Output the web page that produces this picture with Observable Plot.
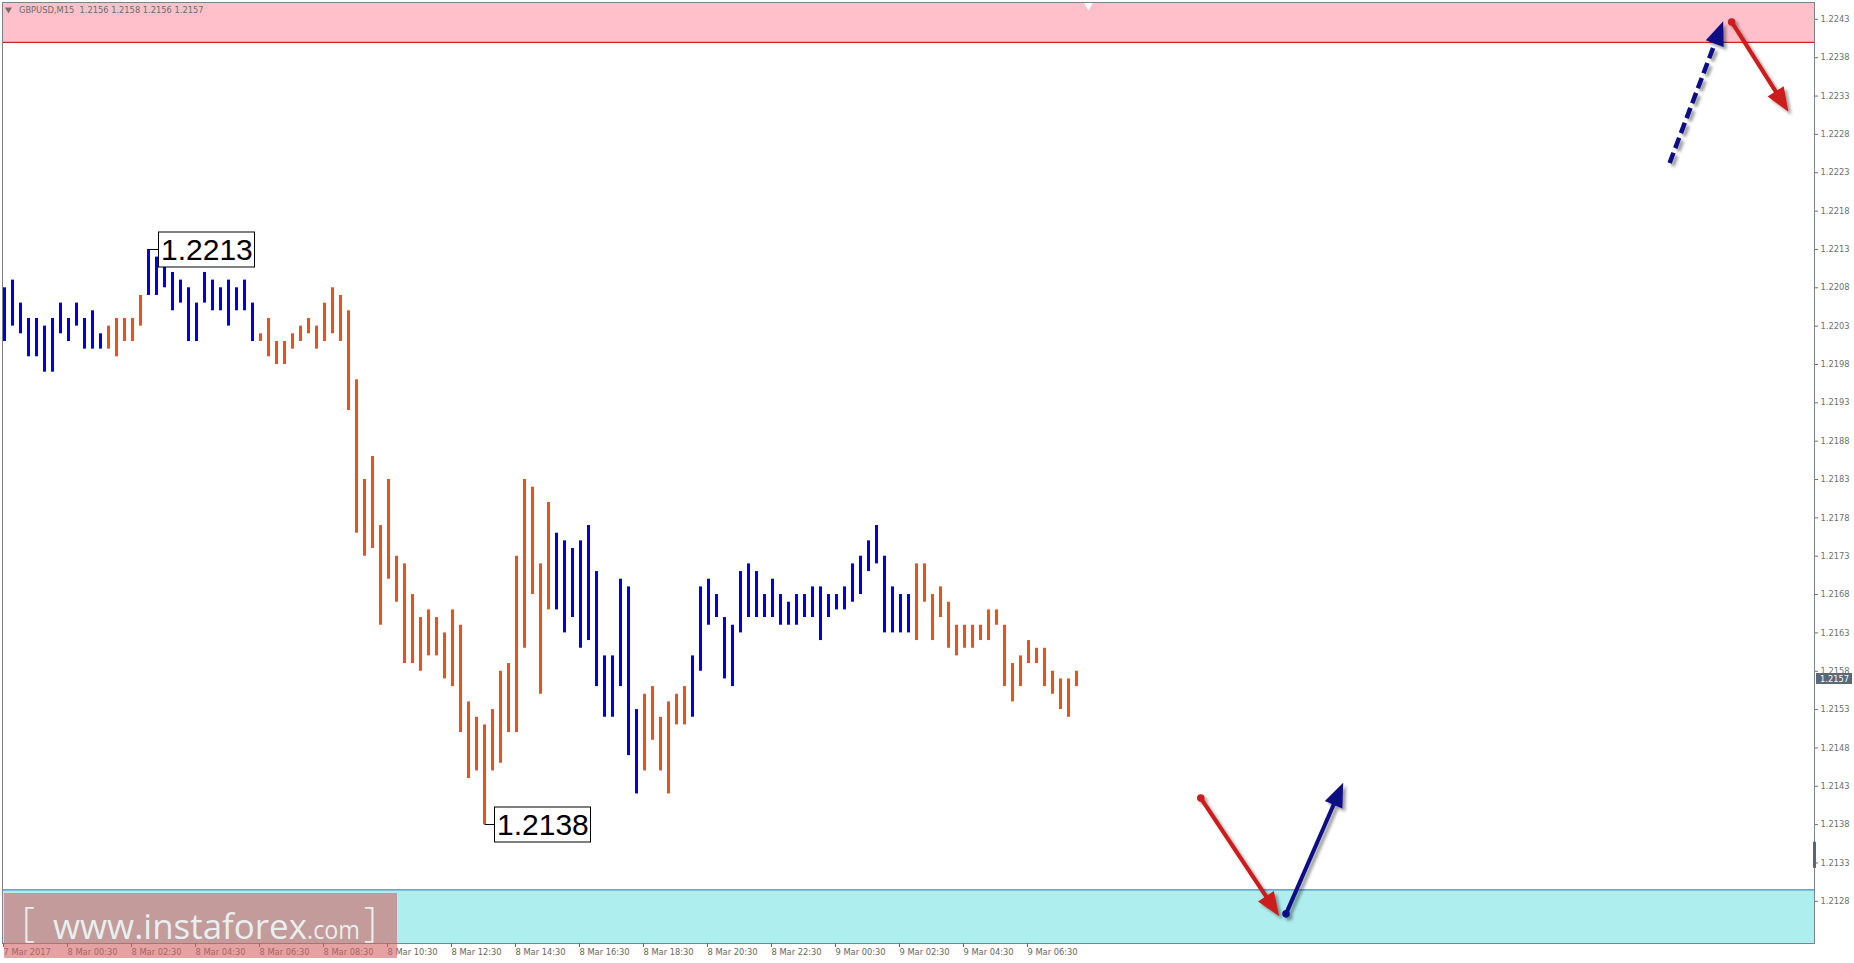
<!DOCTYPE html>
<html>
<head>
<meta charset="utf-8">
<script src="https://cdn.jsdelivr.net/npm/d3@7"></script>
<script src="https://cdn.jsdelivr.net/npm/@observablehq/plot@0.6"></script>
<style>
  html, body { margin: 0; padding: 0; background: #fff; }
  #wrap { position: relative; width: 1854px; height: 963px; overflow: hidden; }
  #wrap svg.wm { position: absolute; left: 0; top: 0; pointer-events: none; }
</style>
</head>
<body>
<div id="wrap"></div>
<script>
// ---------------- data ----------------
const symbolName = "GBPUSD,M15";
const lastOHLC = [1.2156, 1.2158, 1.2156, 1.2157];

// 15-minute bars, index 0 = 7 Mar 2017 22:30
const highs = [
  1.2208,1.2209,1.2206,1.2204,1.2204,1.2203,1.2204,1.2206,1.2204,1.2206,
  1.2204,1.2205,1.2202,1.2203,1.2204,1.2204,1.2204,1.2207,1.2213,1.2212,
  1.2211,1.2210,1.2209,1.2208,1.2206,1.2210,1.2209,1.2208,1.2209,1.2208,
  1.2209,1.2206,1.2202,1.2204,1.2201,1.2201,1.2202,1.2203,1.2204,1.2203,
  1.2206,1.2208,1.2207,1.2205,1.2196,1.2183,1.2186,1.2177,1.2183,1.2173,
  1.2172,1.2168,1.2165,1.2166,1.2165,1.2163,1.2166,1.2164,1.2154,1.2152,
  1.2151,1.2153,1.2158,1.2159,1.2173,1.2183,1.2182,1.2172,1.2180,1.2176,
  1.2175,1.2174,1.2175,1.2177,1.2171,1.2160,1.2160,1.2170,1.2169,1.2153,
  1.2155,1.2156,1.2152,1.2154,1.2155,1.2156,1.2160,1.2169,1.2170,1.2168,
  1.2165,1.2164,1.2171,1.2172,1.2171,1.2168,1.2170,1.2168,1.2167,1.2168,
  1.2168,1.2169,1.2169,1.2168,1.2168,1.2169,1.2172,1.2173,1.2175,1.2177,
  1.2173,1.2169,1.2168,1.2168,1.2172,1.2172,1.2168,1.2169,1.2167,1.2164,
  1.2164,1.2164,1.2164,1.2166,1.2166,1.2164,1.2159,1.2160,1.2162,1.2161,
  1.2161,1.2158,1.2157,1.2157,1.2158
];
const lows = [
  1.2201,1.2203,1.2202,1.2199,1.2199,1.2197,1.2197,1.2202,1.2201,1.2203,
  1.2200,1.2200,1.2200,1.2200,1.2199,1.2201,1.2201,1.2203,1.2207,1.2207,
  1.2208,1.2205,1.2206,1.2201,1.2201,1.2206,1.2205,1.2205,1.2203,1.2205,
  1.2205,1.2201,1.2201,1.2199,1.2198,1.2198,1.2200,1.2201,1.2202,1.2200,
  1.2201,1.2202,1.2201,1.2192,1.2176,1.2173,1.2174,1.2164,1.2170,1.2167,
  1.2159,1.2159,1.2158,1.2160,1.2160,1.2157,1.2156,1.2150,1.2144,1.2145,
  1.2138,1.2145,1.2146,1.2150,1.2150,1.2161,1.2168,1.2155,1.2166,1.2166,
  1.2163,1.2165,1.2161,1.2162,1.2156,1.2152,1.2152,1.2156,1.2147,1.2142,
  1.2145,1.2149,1.2145,1.2142,1.2151,1.2151,1.2152,1.2158,1.2164,1.2165,
  1.2157,1.2156,1.2163,1.2165,1.2165,1.2165,1.2165,1.2164,1.2164,1.2164,
  1.2165,1.2165,1.2162,1.2165,1.2166,1.2166,1.2167,1.2168,1.2171,1.2172,
  1.2163,1.2163,1.2163,1.2163,1.2162,1.2167,1.2162,1.2165,1.2161,1.2160,
  1.2161,1.2161,1.2162,1.2162,1.2164,1.2156,1.2154,1.2156,1.2159,1.2159,
  1.2156,1.2155,1.2153,1.2152,1.2156
];
// wave segments (bar index ranges) and their direction
const waveFrom = [0, 13, 18, 32, 69, 80, 86, 114];
const waveTo   = [12, 17, 31, 68, 79, 85, 113, 134];
const waveDir  = ["up", "down", "up", "down", "up", "down", "up", "down"];

// x-axis ticks (bar index) and labels
const xTickIdx = [0, 8, 16, 24, 32, 40, 48, 56, 64, 72, 80, 88, 96, 104, 112, 120, 128];
const xTickLabels = ["7 Mar 2017", "8 Mar 00:30", "8 Mar 02:30", "8 Mar 04:30", "8 Mar 06:30",
  "8 Mar 08:30", "8 Mar 10:30", "8 Mar 12:30", "8 Mar 14:30", "8 Mar 16:30", "8 Mar 18:30",
  "8 Mar 20:30", "8 Mar 22:30", "9 Mar 00:30", "9 Mar 02:30", "9 Mar 04:30", "9 Mar 06:30"];
// y-axis ticks
const yTicks = [1.2128, 1.2133, 1.2138, 1.2143, 1.2148, 1.2153, 1.2158, 1.2163, 1.2168, 1.2173,
  1.2178, 1.2183, 1.2188, 1.2193, 1.2198, 1.2203, 1.2208, 1.2213, 1.2218, 1.2223,
  1.2228, 1.2233, 1.2238, 1.2243];

// visible ranges
const xDomain = [-0.25, 226.25];
const yDomain = [1.21225, 1.22452];

// zones
const zoneLow  = [1.2240, yDomain[0]];
const zoneHigh = [yDomain[1], 1.21295];
const zoneFill = ["#ffc0cb", "#afeeee"];
const zoneEdge = [1.2240, 1.21295];
const zoneEdgeColor = ["#cc2222", "#4a8fc4"];

// labelled extremes
const extremeIdx = [18, 60];
const extremePrice = [1.2213, 1.2138];

// forecast arrows (bar index, price)
const arrowFromIdx   = [208.2, 215.96, 149.6, 160.25];
const arrowFromPrice = [1.22242, 1.22426, 1.21414, 1.21263];
const arrowToIdx     = [214.9, 223.06, 159.4, 167.4];
const arrowToPrice   = [1.22427, 1.22309, 1.21260, 1.21434];
const arrowColor     = ["#0a0a85", "#cc1a1a", "#cc1a1a", "#0a0a85"];
const arrowDashed    = [true, false, false, false];
const arrowDot       = [false, true, true, true];

const chartShiftIdx = 135.5;
const scrollMarkPrice = [1.21323, 1.21357];

// ---------------- tables ----------------
const dirOf = i => waveDir[waveFrom.findIndex((f, k) => i >= f && i <= waveTo[k])];
const bars = highs.map((h, i) => ({i, high: h, low: lows[i], dir: dirOf(i)}));
const zones = zoneLow.map((lo, k) => ({lo, hi: zoneHigh[k], fill: zoneFill[k], x1: xDomain[0], x2: xDomain[1]}));
const edges = zoneEdge.map((y, k) => ({y, color: zoneEdgeColor[k]}));
const extremes = extremeIdx.map((i, k) => ({i, p: extremePrice[k]}));
const arrows = arrowFromIdx.map((x1, k) => ({x1, y1: arrowFromPrice[k], x2: arrowToIdx[k], y2: arrowToPrice[k],
  color: arrowColor[k], dashed: arrowDashed[k], dot: arrowDot[k]}));
const fmt4 = d3.format(".4f");
const header = symbolName + "\u00a0\u00a0" + lastOHLC.map(fmt4).join(" ");

const FONT = "'DejaVu Sans', Verdana, sans-serif";

// ---------------- custom render marks ----------------
function extremeLabels(index, scales) {
  const g = d3.create("svg:g");
  extremes.forEach(e => {
    const x = Math.round(scales.x(e.i)) + 0.5, y = Math.round(scales.y(e.p)) + 0.5;
    g.append("path").attr("d", `M${x},${y}H${x + 10}`).attr("stroke", "#000").attr("fill", "none");
    g.append("rect").attr("x", x + 10).attr("y", y - 17.5).attr("width", 96).attr("height", 35)
      .attr("fill", "#fff").attr("stroke", "#000");
    g.append("text").attr("x", x + 12.5).attr("y", y + 10.5).attr("text-anchor", "start")
      .attr("font-family", "'Liberation Sans', Arial, sans-serif").attr("font-size", 30)
      .attr("fill", "#000").text(fmt4(e.p));
  });
  return g.node();
}

function waveArrows(index, scales) {
  const g = d3.create("svg:g");
  g.append("defs").append("filter").attr("id", "ashadow")
    .attr("x", "-50%").attr("y", "-50%").attr("width", "200%").attr("height", "200%")
    .append("feDropShadow").attr("dx", 3).attr("dy", 3).attr("stdDeviation", 1.8)
    .attr("flood-color", "#000").attr("flood-opacity", 0.38);
  const body = g.append("g").attr("filter", "url(#ashadow)");
  arrows.forEach(a => {
    const x1 = scales.x(a.x1), y1 = scales.y(a.y1), x2 = scales.x(a.x2), y2 = scales.y(a.y2);
    const dx = x2 - x1, dy = y2 - y1, len = Math.hypot(dx, dy), ux = dx / len, uy = dy / len;
    const L = 24, W = 19;
    const bx = x2 - ux * L, by = y2 - uy * L;
    body.append("line").attr("x1", x1).attr("y1", y1).attr("x2", bx + ux * 3).attr("y2", by + uy * 3)
      .attr("stroke", a.color).attr("stroke-width", a.dashed ? 4.5 : 4)
      .attr("stroke-dasharray", a.dashed ? "11,5" : null);
    body.append("path")
      .attr("d", `M${x2},${y2}L${bx - uy * W / 2},${by + ux * W / 2}L${bx + uy * W / 2},${by - ux * W / 2}Z`)
      .attr("fill", a.color);
    if (a.dot) body.append("circle").attr("cx", x1).attr("cy", y1).attr("r", 3.8).attr("fill", a.color);
  });
  return g.node();
}

function priceBox(index, scales, values, dims) {
  const g = d3.create("svg:g");
  const y = scales.y(lastOHLC[3]);
  const x0 = dims.width - dims.marginRight + 2;
  g.append("rect").attr("x", x0).attr("y", Math.round(y) - 5).attr("width", 36).attr("height", 11).attr("fill", "#5b6878");
  g.append("text").attr("x", x0 + 4).attr("y", Math.round(y) + 3.5).attr("text-anchor", "start").attr("fill", "#fff")
    .attr("font-family", FONT).attr("font-size", 8.3).text(fmt4(lastOHLC[3]));
  return g.node();
}

// ---------------- plot ----------------
const plot = Plot.plot({
  width: 1854,
  height: 963,
  marginLeft: 2,
  marginRight: 40,
  marginTop: 2,
  marginBottom: 20,
  x: {type: "linear", domain: xDomain},
  y: {type: "linear", domain: yDomain},
  color: {domain: ["up", "down"], range: ["#0000dc", "#e8531d"]},
  style: {fontFamily: FONT, fontSize: "8.3px", background: "#fff", overflow: "visible"},
  marks: [
    Plot.rect(zones, {x1: "x1", x2: "x2", y1: "lo", y2: "hi", fill: d => d.fill}),
    Plot.ruleY(edges, {y: "y", stroke: d => d.color, strokeWidth: 1.2}),
    Plot.ruleX(bars, {x: "i", y1: "low", y2: "high", stroke: "dir", strokeWidth: 3}),
    extremeLabels,
    waveArrows,
    Plot.frame({stroke: "#7b848c"}),
    Plot.ruleX([xDomain[1]], {y1: scrollMarkPrice[0], y2: scrollMarkPrice[1], stroke: "#5b6672", strokeWidth: 3}),
    Plot.dot([chartShiftIdx], {x: d => d, frameAnchor: "top", dy: 3, symbol: "triangle", rotate: 180, r: 3.2, fill: "#fff", stroke: null}),
    Plot.dot([header], {frameAnchor: "top-left", dx: 6, dy: 7, symbol: "triangle", rotate: 180, r: 2.6, fill: "#707070", stroke: null}),
    Plot.text([header], {text: d => d, frameAnchor: "top-left", textAnchor: "start", lineAnchor: "top",
      dx: 16.5, dy: 4.5, fill: "#6b6b6b", fontSize: 8.3}),
    Plot.axisY(yTicks, {anchor: "right", tickSize: 3, tickPadding: 3, tickFormat: fmt4,
      fontSize: 8.3, color: "#6f6f6f"}),
    Plot.axisX(xTickIdx, {anchor: "bottom", tickSize: 4, tickPadding: 2,
      tickFormat: i => xTickLabels[xTickIdx.indexOf(i)], textAnchor: "start", dx: -1,
      fontSize: 8.3, color: "#666"}),
    priceBox
  ]
});

const wrap = document.getElementById("wrap");
wrap.appendChild(plot);

// watermark overlay (site logo)
const wm = d3.select(wrap).append("svg").attr("class", "wm").attr("width", 1854).attr("height", 963);
wm.append("rect").attr("x", 4).attr("y", 893).attr("width", 393).attr("height", 65).attr("fill", "rgba(210,100,100,0.6)");
const wmText = wm.append("g").attr("fill", "rgba(236,248,248,0.92)").attr("font-family", "'Open Sans', 'DejaVu Sans', sans-serif");
wmText.append("text").attr("x", 22).attr("y", 936).attr("font-size", 40).attr("font-weight", 300).text("[");
wmText.append("text").attr("x", 53).attr("y", 939).attr("font-size", 35).attr("textLength", 254)
  .attr("lengthAdjust", "spacingAndGlyphs").text("www.instaforex");
wmText.append("text").attr("x", 307).attr("y", 939).attr("font-size", 25).attr("textLength", 53)
  .attr("lengthAdjust", "spacingAndGlyphs").text(".com");
wmText.append("text").attr("x", 364).attr("y", 936).attr("font-size", 40).attr("font-weight", 300).text("]");
</script>
</body>
</html>
